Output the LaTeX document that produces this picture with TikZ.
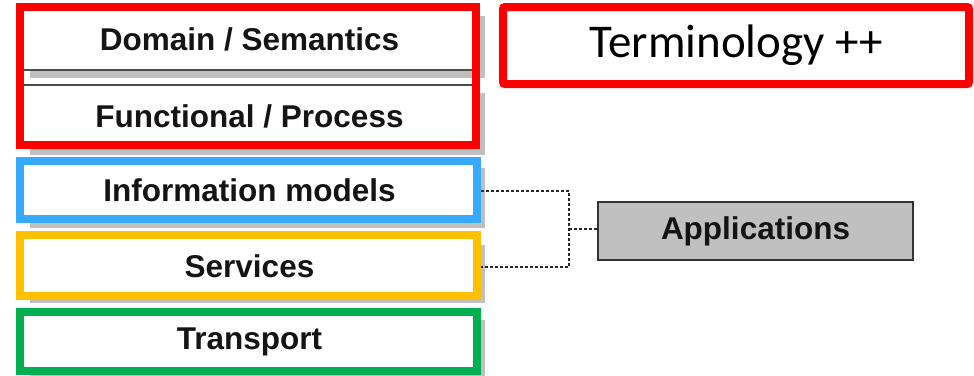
\documentclass[tikz,border=0pt]{standalone}
\usepackage{fontspec}
\setmainfont{Liberation Sans}
\newfontfamily\calibrilike{Carlito}
\usetikzlibrary{shadows}
\definecolor{frameRed}{HTML}{FF0000}
\definecolor{frameBlue}{HTML}{35AAFF}
\definecolor{frameOrange}{HTML}{FFC000}
\definecolor{frameGreen}{HTML}{00B050}
\definecolor{appGray}{HTML}{C0C0C0}
\tikzset{
  layer/.style={draw=black!70, line width=1.5pt, fill=white,
    minimum width=455pt, inner sep=0pt,
    font=\fontsize{31.5}{36}\selectfont\bfseries, text=black!92,
    drop shadow={shadow xshift=8pt, shadow yshift=-8pt, fill=black!25, opacity=1}},
  frame/.style={draw=#1, line width=8pt, inner sep=0pt},
  link/.style={draw=black!85, line width=1.2pt, dash pattern=on 3pt off 2pt},
}
\begin{document}
\begin{tikzpicture}[x=1pt, y=-1pt]
\useasboundingbox (0,0) rectangle (974,375);

% protocol layers
\node[layer, minimum height=62pt] (dom) at (249.5,39) {Domain / Semantics};
\node[layer, minimum height=62pt] (fun) at (249.5,116) {Functional / Process};
\node[layer, minimum height=60pt] (inf) at (249.5,190) {Information models};
\node[layer, minimum height=58pt] (srv) at (249.5,266) {Services};
\node[layer, minimum height=60pt] (trp) at (249.5,342) {Transport};

% coloured groupings
\node[frame=frameRed, minimum width=456pt, minimum height=138pt] (fRed) at (248,76) {};
\node[frame=frameBlue, minimum width=457pt, minimum height=58pt] (fBlue) at (248.5,190) {};
\node[frame=frameOrange, minimum width=457pt, minimum height=61pt] (fOrange) at (248.5,265.5) {};
\node[frame=frameGreen, minimum width=457pt, minimum height=59pt] (fGreen) at (248.5,341.5) {};

\node[frame=frameRed, rounded corners=2pt, minimum width=466pt, minimum height=77pt,
  font=\calibrilike\fontsize{47}{52}\selectfont] (term) at (736,45.5) {Terminology ++};

% applications
\node[draw=black!80, line width=1.5pt, fill=appGray, minimum width=315pt, minimum height=58pt,
  inner sep=0pt, font=\fontsize{31.5}{36}\selectfont\bfseries, text=black!92] (app) at (755.5,231) {Applications};

% dashed links
\coordinate (jTop) at (569,191);
\coordinate (jBot) at (569,267);
\coordinate (jMid) at (569,229);
\draw[link] (fBlue.east |- jTop) -- (jTop) -- (jBot) -- (fOrange.east |- jBot);
\draw[link] (jMid) -- (app.west |- jMid);
\end{tikzpicture}
\end{document}
